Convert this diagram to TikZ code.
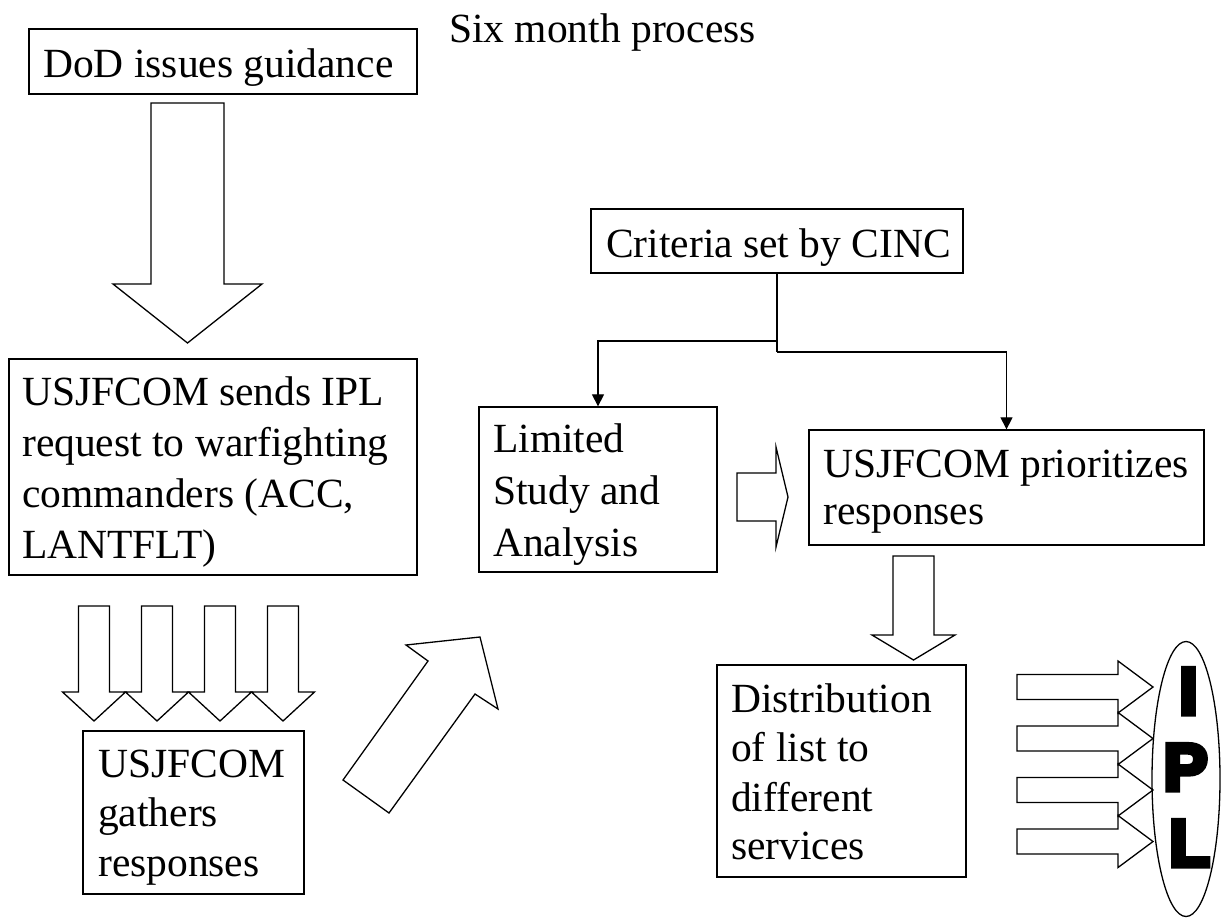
\documentclass[tikz,border=0pt]{standalone}
\usepackage{fontspec}
\setmainfont{Liberation Serif}
\newfontfamily\iplfont{Liberation Sans}[BoldFeatures={FakeBold=8}]
\usetikzlibrary{arrows.meta,shapes.geometric}
\begin{document}
\begin{tikzpicture}[x=1pt,y=-1pt,
  box/.style={draw, line width=1.3pt, inner sep=0pt},
  txt/.style={anchor=base west, inner sep=0pt, font=\fontsize{41.5}{49}\selectfont},
  blk/.style={draw, fill=white, line width=1.3pt, line join=miter},
  conn/.style={line width=1.2pt, -{Triangle[length=12pt,width=12pt]}},
  ipltxt/.style={anchor=base, inner sep=0pt, font=\iplfont\bfseries\fontsize{66}{66}\selectfont}]
\fill[white] (0,0) rectangle (1225,918);
\useasboundingbox (0,0) rectangle (1225,918);

% boxes
\node[box, minimum width=388pt, minimum height=65pt]  (dod)  at (223,61.5) {};
\node[box, minimum width=408pt, minimum height=216pt] (send) at (213,467) {};
\node[box, minimum width=372pt, minimum height=64pt]  (crit) at (777,241) {};
\node[box, minimum width=238pt, minimum height=165pt] (lim)  at (598,489.5) {};
\node[box, minimum width=395pt, minimum height=115pt] (prio) at (1006.5,487.5) {};
\node[box, minimum width=249pt, minimum height=212pt] (dist) at (841.5,771) {};
\node[box, minimum width=221pt, minimum height=163pt] (gath) at (193.5,812.5) {};

% texts
\node[txt] (ttitle) at (449,42) {Six month process};
\node[txt] (tdod) at (43,77) {DoD issues guidance};
\node[txt] (tsend1) at (22,405) {USJFCOM sends IPL};
\node[txt] (tsend2) at (22,456) {request to warfighting};
\node[txt] (tsend3) at (22,507) {commanders (ACC,};
\node[txt] (tsend4) at (22,558) {LANTFLT)};
\node[txt] (tcrit) at (606,257) {Criteria set by CINC};
\node[txt] (tlim1) at (493,452) {Limited};
\node[txt] (tlim2) at (493,504) {Study and};
\node[txt] (tlim3) at (493,556) {Analysis};
\node[txt] (tprio1) at (823,477) {USJFCOM prioritizes};
\node[txt] (tprio2) at (823,524) {responses};
\node[txt] (tdist1) at (731,712) {Distribution};
\node[txt] (tdist2) at (731,761) {of list to};
\node[txt] (tdist3) at (731,811) {different};
\node[txt] (tdist4) at (731,859) {services};
\node[txt] (tgath1) at (98,777) {USJFCOM};
\node[txt] (tgath2) at (98,826) {gathers};
\node[txt] (tgath3) at (98,876) {responses};

% connectors from criteria
\coordinate (j1) at (777,341);
\coordinate (j2) at (777,352);
\draw[line width=1.2pt] (crit.south) -- (j2);
\draw[conn] (j1) -| (lim.north);
\draw[conn] (j2) -| (prio.north);

% big down arrow
\draw[blk] (151,103) -- (224,103) -- (224,284) -- (262,284) -- (187.5,343) -- (113,284) -- (151,284) -- cycle;

% four down arrows
\foreach \c in {94,157,220,283}{
  \draw[blk] (\c-15.5,606) -- (\c+15.5,606) -- (\c+15.5,692) -- (\c+31.5,692) -- (\c,721) -- (\c-31.5,692) -- (\c-15.5,692) -- cycle;
}

% diagonal arrow
\draw[blk] (343,780) -- (428,661) -- (406,645) -- (480,637) -- (498,709) -- (475,694) -- (389,813) -- cycle;

% small right arrow
\draw[blk] (737,473) -- (776,473) -- (776,447) -- (788,497) -- (776,547) -- (776,521) -- (737,521) -- cycle;

% down arrow under prioritizes
\draw[blk] (893,556) -- (934,556) -- (934,635) -- (955,635) -- (913.5,660) -- (872,635) -- (893,635) -- cycle;

% arrows to IPL
\foreach \c in {687,738.5,790,841.5}{
  \draw[blk] (1017,\c-12.5) -- (1118,\c-12.5) -- (1118,\c-26) -- (1153,\c) -- (1118,\c+26) -- (1118,\c+12.5) -- (1017,\c+12.5) -- cycle;
}

% IPL ellipse
\node[draw, ellipse, line width=1.3pt, inner sep=0pt, minimum width=68pt, minimum height=275pt] (ipl) at (1186,779) {};
\node[ipltxt] (tI) at (1188.5,714) {I};
\node[ipltxt] (tP) at (1185.5,790) {P};
\node[ipltxt] (tL) at (1189.5,866) {L};
\end{tikzpicture}
\end{document}
